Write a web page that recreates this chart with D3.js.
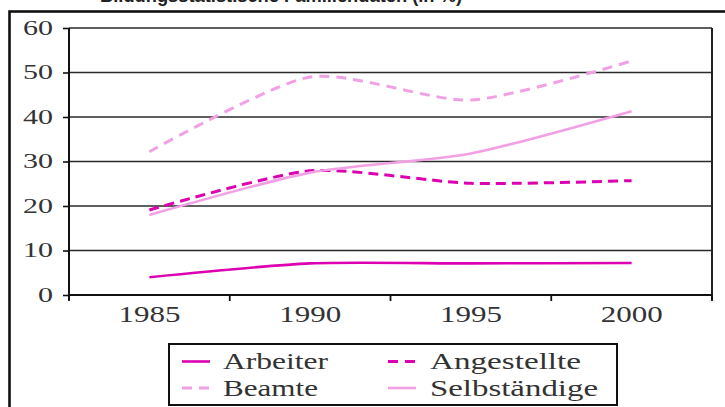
<!DOCTYPE html>
<html>
<head>
<meta charset="utf-8">
<script src="https://cdn.jsdelivr.net/npm/d3@7"></script>
<style>
  html, body { margin: 0; padding: 0; background: #fff; }
  svg { display: block; }
</style>
</head>
<body>
<svg id="chart" width="725" height="407"></svg>
<script>
// ---- data ----
const years = ["1985", "1990", "1995", "2000"];
const arbeiter = [4.0, 7.1, 7.1, 7.2];
const angestellte = [19.1, 27.9, 25.1, 25.7];
const beamte = [32.2, 49.0, 43.8, 52.6];
const selbstaendige = [18.0, 27.5, 31.8, 41.3];
const yTicks = [0, 10, 20, 30, 40, 50, 60];
const seriesNames = ["Arbeiter", "Angestellte", "Beamte", "Selbständige"];
const titleText = "Bildungsstatistische Familiendaten (in %)";

const series = [
  { name: seriesNames[0], values: arbeiter, color: "#dc00b2", dash: null, width: 2.6 },
  { name: seriesNames[1], values: angestellte, color: "#dc00b2", dash: "10,6", width: 3 },
  { name: seriesNames[2], values: beamte, color: "#f2a0e4", dash: "10,7", width: 3 },
  { name: seriesNames[3], values: selbstaendige, color: "#f2a0e4", dash: null, width: 2.6 }
];

const svg = d3.select("#chart");
const serif = "'Liberation Serif', 'Times New Roman', serif";

// title (cut off at top, as in the reference)
svg.append("text")
  .attr("x", 100).attr("y", 2)
  .attr("font-family", "'Liberation Sans', Arial, sans-serif")
  .attr("font-weight", "bold").attr("font-size", 18)
  .attr("textLength", 362).attr("lengthAdjust", "spacingAndGlyphs")
  .attr("fill", "#222")
  .text(titleText);

// outer frame
svg.append("rect")
  .attr("x", 9.5).attr("y", 11.5).attr("width", 800).attr("height", 500)
  .attr("fill", "none").attr("stroke", "#111").attr("stroke-width", 2.6);

const pLeft = 69, pRight = 712, pTop = 28, pBottom = 295;
const x = d3.scaleBand().domain(years).range([pLeft, pRight]).padding(0);
const cx = d => x(d) + x.bandwidth() / 2;
const y = d3.scaleLinear().domain([0, 60]).range([pBottom, pTop]);

// gridlines
svg.append("g").selectAll("line").data(yTicks.filter(t => t > 0)).join("line")
  .attr("x1", pLeft).attr("x2", pRight)
  .attr("y1", d => y(d)).attr("y2", d => y(d))
  .attr("stroke", "#2a2a2a").attr("stroke-width", 1.4);

// right border of plot
svg.append("line")
  .attr("x1", pRight).attr("x2", pRight).attr("y1", pTop).attr("y2", pBottom + 5)
  .attr("stroke", "#222").attr("stroke-width", 2);

// y axis
const yAxis = svg.append("g").attr("transform", `translate(${pLeft},0)`)
  .call(d3.axisLeft(y).tickValues(yTicks).tickSize(6).tickPadding(9));
yAxis.select(".domain").attr("stroke", "#111").attr("stroke-width", 2)
  .attr("d", `M0,${pTop}V${pBottom + 5}`);
yAxis.selectAll(".tick line").attr("stroke", "#111").attr("stroke-width", 1.6);
yAxis.selectAll(".tick text")
  .attr("font-family", serif).attr("font-size", 20).attr("fill", "#333")
  .attr("dy", null).attr("y", 6)
  .attr("x", -16)
  .attr("textLength", d => String(d).length * 15).attr("lengthAdjust", "spacingAndGlyphs");

// x axis line
svg.append("line")
  .attr("x1", pLeft).attr("x2", pRight).attr("y1", pBottom).attr("y2", pBottom)
  .attr("stroke", "#111").attr("stroke-width", 2);
// x ticks at category boundaries
const boundaries = years.map(d => x(d)).concat([x.range()[1]]);
svg.append("g").selectAll("line").data(boundaries).join("line")
  .attr("x1", d => d).attr("x2", d => d)
  .attr("y1", pBottom).attr("y2", pBottom + 6)
  .attr("stroke", "#111").attr("stroke-width", 1.8);
// x labels
svg.append("g").selectAll("text").data(years).join("text")
  .attr("x", d => cx(d)).attr("y", 321.5)
  .attr("text-anchor", "middle")
  .attr("font-family", serif).attr("font-size", 24).attr("fill", "#333")
  .attr("textLength", 62).attr("lengthAdjust", "spacingAndGlyphs")
  .text(d => d);

// lines
const line = d3.line()
  .x((d, i) => cx(years[i]))
  .y(d => y(d))
  .curve(d3.curveCardinal.tension(0.3));

svg.append("g").selectAll("path").data(series).join("path")
  .attr("d", s => line(s.values))
  .attr("fill", "none")
  .attr("stroke", s => s.color)
  .attr("stroke-width", s => s.width)
  .attr("stroke-dasharray", s => s.dash);

// legend
svg.append("rect")
  .attr("x", 169).attr("y", 344).attr("width", 448).attr("height", 61)
  .attr("fill", "#fff").attr("stroke", "#111").attr("stroke-width", 2);

const legPos = [
  { lx: 182, tx: 223, ly: 361.5, ty: 369, tl: 105 },
  { lx: 388, tx: 430, ly: 361.5, ty: 369, tl: 151 },
  { lx: 182, tx: 223, ly: 388, ty: 396, tl: 95 },
  { lx: 388, tx: 430, ly: 388, ty: 396, tl: 168 }
];
const leg = svg.append("g").selectAll("g").data(series).join("g");
leg.append("line")
  .attr("x1", (s, i) => legPos[i].lx).attr("x2", (s, i) => legPos[i].lx + 28)
  .attr("y1", (s, i) => legPos[i].ly).attr("y2", (s, i) => legPos[i].ly)
  .attr("stroke", s => s.color).attr("stroke-width", s => s.width)
  .attr("stroke-dasharray", s => s.dash ? "10,7" : null);
leg.append("text")
  .attr("x", (s, i) => legPos[i].tx).attr("y", (s, i) => legPos[i].ty)
  .attr("font-family", serif).attr("font-size", 24).attr("fill", "#333")
  .attr("textLength", (s, i) => legPos[i].tl).attr("lengthAdjust", "spacingAndGlyphs")
  .text(s => s.name);
</script>
</body>
</html>
